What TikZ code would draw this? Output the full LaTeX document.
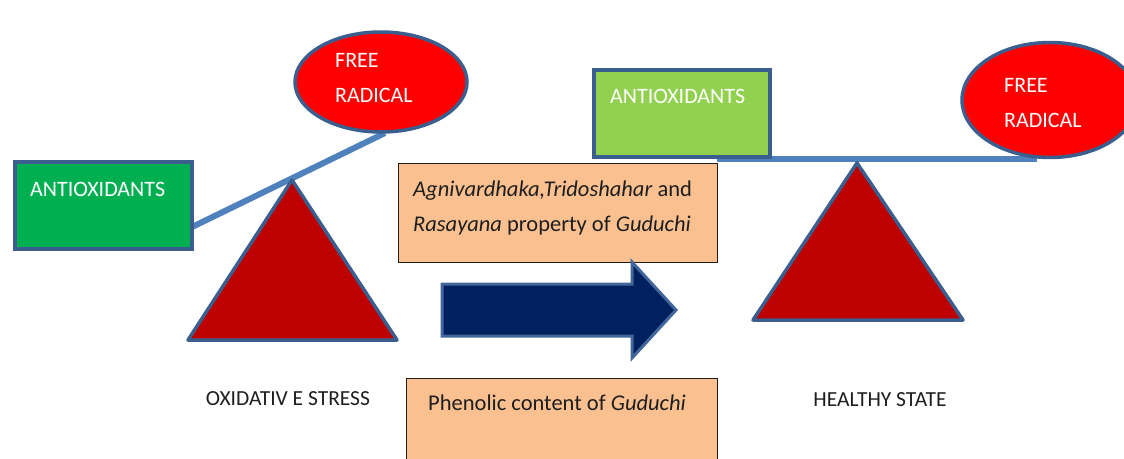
\documentclass[tikz,border=0pt]{standalone}
\usepackage{fontspec}
\setmainfont{Carlito}
\usetikzlibrary{shapes.geometric}
\definecolor{edgeblue}{HTML}{3A5F8E}
\definecolor{beamblue}{HTML}{4F81BD}
\definecolor{greenA}{HTML}{00B050}
\definecolor{greenB}{HTML}{92D050}
\definecolor{radred}{HTML}{FF0000}
\definecolor{trired}{HTML}{BE0000}
\definecolor{navy}{HTML}{002060}
\definecolor{arrowedge}{HTML}{41669A}
\definecolor{peach}{HTML}{FAC090}
\definecolor{txtdark}{HTML}{1E1E1E}
\tikzset{
  greenbox/.style={draw=edgeblue, line width=4pt, inner sep=0pt, anchor=north west},
  radical/.style={ellipse, draw=edgeblue, fill=radred, line width=3.5pt, inner sep=0pt},
  fulcrum/.style={draw=edgeblue, fill=trired, line width=3.5pt, line join=round},
  beam/.style={draw=beamblue, line width=6pt},
  peachbox/.style={draw=txtdark, fill=peach, line width=1.4pt, inner sep=0pt, anchor=north west},
  whitetxt/.style={text=white, font=\fontsize{22}{26}\selectfont, inner sep=0pt, anchor=base west},
  darktxt/.style={text=txtdark, font=\fontsize{21.5}{25}\selectfont, inner sep=0pt},
  peachtxt/.style={text=txtdark, font=\fontsize{22.5}{26}\selectfont, inner sep=0pt},
  bigarrow/.style={draw=arrowedge, fill=navy, line width=3pt, line join=miter}
}
\begin{document}
\begin{tikzpicture}[x=1pt,y=-1pt]
\useasboundingbox (0,0) rectangle (1124,458);
\clip (0,0) rectangle (1124,458);

% ---------- left scene: oxidative stress ----------
\coordinate (bL1) at (190,228);
\coordinate (bL2) at (385,133);
\draw[beam] (bL1) -- (bL2);
\node[greenbox, fill=greenA, minimum width=177pt, minimum height=87pt] (antiL) at (13,160) {};
\node[whitetxt] (antiLt) at (30,196) {ANTIOXIDANTS};
\node[radical, minimum width=172pt, minimum height=100pt] (radL) at (381,82) {};
\node[whitetxt] (freeL) at (335,67) {FREE};
\node[whitetxt] (radLt) at (335,102) {RADICAL};
\draw[fulcrum] (292,180) -- (188,340) -- (397,340) -- cycle;
\node[darktxt, anchor=base] (oxi) at (288,405) {OXIDATIV E STRESS};

% ---------- middle ----------
\node[peachbox, minimum width=319pt, minimum height=99pt] (prop) at (398,163) {};
\node[peachtxt, anchor=base west] (propA) at (413,196) {\textit{Agnivardhaka,Tridoshahar} and};
\node[peachtxt, anchor=base west] (propB) at (413,231) {\textit{Rasayana} property of \textit{Guduchi}};
\draw[bigarrow] (442,284) -- (632,284) -- (632,262) -- (676,310) -- (632,358) -- (632,336) -- (442,336) -- cycle;
\node[peachbox, minimum width=311pt, minimum height=100pt] (phen) at (406,378) {};
\node[peachtxt, anchor=base] (phent) at (557,410) {Phenolic content of \textit{Guduchi}};

% ---------- right scene: healthy state ----------
\coordinate (bR1) at (717,159);
\coordinate (bR2) at (1037,159);
\draw[beam] (bR1) -- (bR2);
\node[greenbox, fill=greenB, minimum width=176pt, minimum height=87pt] (antiR) at (592,68) {};
\node[whitetxt] (antiRt) at (610,103) {ANTIOXIDANTS};
\node[radical, minimum width=176pt, minimum height=115pt] (radR) at (1050,100) {};
\node[whitetxt] (freeR) at (1004,92) {FREE};
\node[whitetxt] (radRt) at (1004,127) {RADICAL};
\draw[fulcrum] (857,163) -- (753,320) -- (963,320) -- cycle;
\node[darktxt, anchor=base] (healthy) at (880,406) {HEALTHY STATE};
\end{tikzpicture}
\end{document}
